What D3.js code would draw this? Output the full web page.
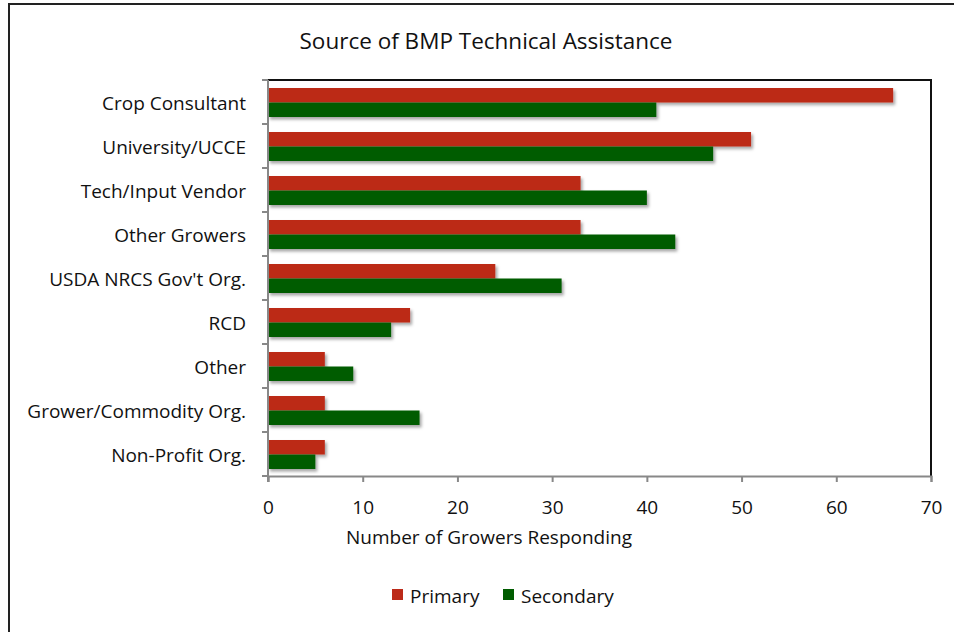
<!DOCTYPE html>
<html>
<head>
<meta charset="utf-8">
<script src="https://cdn.jsdelivr.net/npm/d3@7"></script>
<style>
  html, body { margin: 0; padding: 0; background: #fff; }
  svg { display: block; font-family: "Open Sans", sans-serif; }
</style>
</head>
<body>
<svg id="chart" width="954" height="632"></svg>
<script>
const categories = ["Crop Consultant", "University/UCCE", "Tech/Input Vendor", "Other Growers ", "USDA NRCS Gov't Org.", "RCD", "Other", "Grower/Commodity Org.", "Non-Profit Org."];
const primary =   [66, 51, 33, 33, 24, 15, 6, 6, 6];
const secondary = [41, 47, 40, 43, 31, 13, 9, 16, 5];
const seriesNames = ["Primary", "Secondary"];
const seriesColors = ["#BC2A19", "#005C00"];
const xTicks = [0, 10, 20, 30, 40, 50, 60, 70];

const svg = d3.select("#chart");
const m = { left: 268, right: 931, top: 80, bottom: 476 };
const FS = 19;

// outer frame
svg.append("rect").attr("x", 9).attr("y", 4).attr("width", 960).attr("height", 640)
  .attr("fill", "none").attr("stroke", "#222").attr("stroke-width", 2);

const defs = svg.append("defs");
const f = defs.append("filter").attr("id", "shadow").attr("x", "-5%").attr("y", "-30%").attr("width", "115%").attr("height", "180%");
f.append("feDropShadow").attr("dx", 2).attr("dy", 2.5).attr("stdDeviation", 1.6)
  .attr("flood-color", "#000").attr("flood-opacity", 0.35);

const x = d3.scaleLinear().domain([0, 70]).range([m.left, m.right]);
const y = d3.scaleBand().domain(categories).range([m.top, m.bottom]).paddingInner(0).paddingOuter(0);
const sub = d3.scaleBand().domain(seriesNames).range([8, y.bandwidth() - 7]).padding(0);

// plot border (top/right)
svg.append("path").attr("d", `M${m.left},${m.top}H${m.right}V${m.bottom}`)
  .attr("fill", "none").attr("stroke", "#111").attr("stroke-width", 2);

// title
svg.append("text").attr("x", 486).attr("y", 49).attr("text-anchor", "middle")
  .attr("font-size", 22.5).attr("fill", "#111").text("Source of BMP Technical Assistance");

// bars
const data = categories.map((c, i) => ({ c, vals: [primary[i], secondary[i]] }));
const g = svg.append("g");
data.forEach(d => {
  d.vals.forEach((v, j) => {
    g.append("rect")
      .attr("x", x(0))
      .attr("y", y(d.c) + sub(seriesNames[j]))
      .attr("width", x(v) - x(0))
      .attr("height", sub.bandwidth())
      .attr("fill", seriesColors[j])
      .attr("filter", "url(#shadow)");
  });
});

// y axis
const yAxisG = svg.append("g");
yAxisG.append("line").attr("x1", m.left).attr("x2", m.left).attr("y1", m.top).attr("y2", m.bottom + 6)
  .attr("stroke", "#888").attr("stroke-width", 2);
const bounds = categories.map(c => y(c)).concat([m.bottom]);
yAxisG.selectAll("line.tick").data(bounds).enter().append("line")
  .attr("x1", m.left - 6).attr("x2", m.left).attr("y1", d => d).attr("y2", d => d)
  .attr("stroke", "#888").attr("stroke-width", 2);
yAxisG.selectAll("text").data(categories).enter().append("text")
  .attr("x", 246).attr("y", d => y(d) + y.bandwidth() / 2 + 8)
  .attr("text-anchor", "end").attr("font-size", FS).attr("fill", "#111")
  .text(d => d.trimEnd());

// x axis
const xAxis = d3.axisBottom(x).tickValues(xTicks).tickSize(6).tickPadding(19).tickFormat(d3.format("d"));
const xg = svg.append("g").attr("transform", `translate(0,${m.bottom})`).call(xAxis);
xg.select(".domain").attr("stroke", "#888").attr("stroke-width", 2);
xg.selectAll(".tick line").attr("stroke", "#888").attr("stroke-width", 2);
xg.selectAll(".tick text").attr("font-size", FS).attr("fill", "#111").attr("font-family", "Open Sans, sans-serif");

svg.append("text").attr("x", 489).attr("y", 544).attr("text-anchor", "middle")
  .attr("font-size", FS).attr("fill", "#111").text("Number of Growers Responding");

// legend
const legend = svg.append("g");
const legendX = [392, 503];
seriesNames.forEach((s, i) => {
  legend.append("rect").attr("x", legendX[i]).attr("y", 589).attr("width", 11).attr("height", 11).attr("fill", seriesColors[i]);
  legend.append("text").attr("x", legendX[i] + 18).attr("y", 603).attr("font-size", FS).attr("fill", "#111").text(s);
});
</script>
</body>
</html>
